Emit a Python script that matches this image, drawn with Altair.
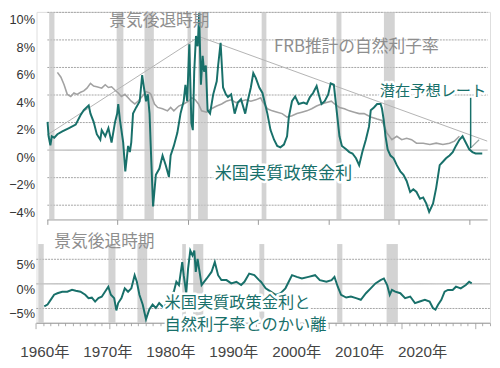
import altair as alt
import pandas as pd

# ---------------- data ----------------
REC_START = [1960.33, 1969.92, 1973.88, 1980.0, 1981.5, 1990.54, 2001.17, 2007.92]
REC_END = [1961.08, 1970.88, 1975.21, 1980.5, 1982.88, 1991.21, 2001.88, 2009.46]

RATE_YEAR = [1960.1, 1960.25, 1960.5, 1960.7, 1961.05, 1961.5, 1962.2, 1963.15, 1964.1, 1964.8,
             1965.25, 1965.95, 1966.2, 1966.65, 1967.1, 1967.6, 1967.8, 1968.3, 1968.75, 1969.2,
             1969.7, 1970.0, 1970.15, 1970.4, 1970.85, 1971.15, 1971.55, 1971.8, 1972.0, 1972.25,
             1972.7, 1973.2, 1973.55, 1973.8, 1974.1, 1974.35, 1974.6, 1974.8, 1975.1, 1975.5,
             1976.0, 1976.45, 1976.9, 1977.35, 1977.6, 1978.05, 1978.55, 1979.0, 1979.45, 1979.7,
             1979.95, 1980.25, 1980.55, 1980.75, 1980.95, 1981.2, 1981.45, 1981.65, 1981.9, 1982.15,
             1982.35, 1982.6, 1982.85, 1983.2, 1983.65, 1984.15, 1984.35, 1984.7, 1985.05, 1985.45,
             1985.75, 1986.2, 1986.7, 1987.15, 1987.6, 1988.2, 1988.55, 1989.0, 1989.35, 1989.7,
             1990.2, 1990.65, 1991.35, 1991.8, 1992.3, 1992.75, 1993.2, 1993.7, 1994.15, 1994.4,
             1994.85, 1995.3, 1995.8, 1996.5, 1996.95, 1997.4, 1997.85, 1998.35, 1998.65, 1999.05,
             1999.5, 2000.0, 2000.35, 2000.8, 2001.3, 2001.6, 2001.95, 2002.55, 2003.0, 2003.45,
             2003.95, 2004.4, 2004.85, 2005.35, 2005.8, 2006.05, 2006.5, 2006.95, 2007.45, 2007.65,
             2007.9, 2008.15, 2008.45, 2008.85, 2009.3, 2009.75, 2010.25, 2010.7, 2011.15, 2011.65,
             2012.1, 2012.55, 2013.05, 2013.5, 2013.95, 2014.35, 2014.9, 2015.35, 2015.85, 2016.3,
             2016.75, 2017.25, 2017.7, 2018.15, 2018.65, 2019.1, 2019.55, 2020.05, 2020.5, 2020.95,
             2021.9]
RATE_VALUE = [2.0, 0.95, 0.3, 0.95, 0.85, 1.1, 1.3, 1.55, 1.8, 2.5,
              2.85, 3.2, 2.6, 2.0, 1.1, 0.7, 1.4, 0.95, 1.55, 0.5,
              2.0, 2.6, 3.3, 2.1, 0.5, -1.6, 0.25, -0.2, 0.5, 2.6,
              3.05, 3.5, 5.4, 4.5, 3.5, 4.0, 2.6, -0.2, -4.15, -1.85,
              -1.4, -0.45, -1.15, -2.0, -0.45, 0.25, 1.2, 2.6, 3.5, 4.7,
              3.5, 7.65, 1.9, 1.4, 5.65, 8.25, 7.5, 9.9, 4.7, 6.8,
              5.65, 6.1, 2.85, 2.6, 4.0, 4.95, 6.1, 7.75, 4.5, 4.0,
              3.8, 4.0, 2.6, 3.4, 3.65, 2.6, 3.5, 4.5, 5.55, 5.2,
              4.5, 4.1, 2.6, 1.4, 0.7, 0.25, 0.15, 0.35, 0.95, 2.35,
              3.5, 3.85, 3.3, 3.4, 3.3, 3.8, 4.1, 4.6, 4.0, 3.3,
              3.5, 4.0, 4.8, 4.7, 2.35, 0.95, 0.25, 0.0, -0.2, -0.3,
              -0.65, -1.15, -0.2, 0.7, 1.65, 2.85, 3.05, 3.3, 3.3, 2.95,
              2.1, 0.95, 0.0, -0.45, -0.65, -1.15, -1.6, -1.85, -2.3, -3.1,
              -2.9, -3.1, -3.6, -3.5, -3.95, -4.55, -3.95, -2.8, -1.15, -0.9,
              -0.65, -0.45, -0.2, 0.25, 0.7, 0.95, 0.5, 0.0, -0.2, -0.3,
              -0.3]

RSTAR_YEAR = [1961.5, 1962.0, 1962.45, 1962.9, 1963.4, 1963.85, 1964.3, 1964.8, 1965.25, 1965.7,
              1966.2, 1966.65, 1967.1, 1967.8, 1968.3, 1968.75, 1969.2, 1969.7, 1970.15, 1970.6,
              1971.1, 1971.55, 1972.0, 1972.5, 1972.95, 1973.4, 1973.8, 1974.1, 1974.6, 1974.8,
              1975.3, 1975.75, 1976.45, 1977.15, 1977.6, 1978.05, 1978.75, 1979.45, 1980.15, 1980.6,
              1981.1, 1981.55, 1982.0, 1982.7, 1983.4, 1984.15, 1984.85, 1985.5, 1986.2, 1986.9,
              1987.6, 1988.3, 1989.0, 1989.7, 1990.4, 1990.65, 1991.35, 1992.05, 1992.75, 1993.45,
              1994.15, 1994.85, 1995.55, 1996.25, 1996.95, 1997.65, 1998.35, 1999.05, 1999.75, 2000.45,
              2000.9, 2001.6, 2002.3, 2003.0, 2003.7, 2004.4, 2005.1, 2006.05, 2006.95, 2007.65,
              2008.35, 2009.05, 2009.75, 2010.45, 2011.15, 2011.85, 2012.55, 2013.5, 2014.45, 2015.35,
              2016.3, 2017.25, 2017.95, 2018.65]
RSTAR_VALUE = [5.6, 5.25, 4.7, 4.0, 3.85, 4.1, 4.0, 4.15, 4.25, 4.45,
               4.8, 4.6, 4.55, 4.45, 4.7, 4.5, 4.55, 4.3, 4.1, 3.85,
               4.0, 3.75, 3.5, 3.3, 3.5, 3.75, 4.0, 4.2, 4.1, 4.0,
               3.3, 3.05, 2.95, 2.8, 3.05, 2.8, 3.15, 3.3, 3.5, 3.75,
               3.6, 3.3, 2.8, 2.7, 2.95, 3.15, 3.3, 3.5, 3.6, 3.4,
               3.5, 3.6, 3.5, 3.6, 3.75, 3.5, 2.95, 2.8, 2.7, 2.6,
               2.35, 2.45, 2.6, 2.7, 2.8, 2.95, 3.15, 3.3, 3.4, 3.5,
               3.3, 3.05, 2.95, 2.8, 2.7, 2.6, 2.6, 2.35, 2.2, 2.1,
               1.2, 0.7, 0.95, 0.7, 0.8, 0.7, 0.45, 0.45, 0.35, 0.45,
               0.35, 0.45, 0.6, 0.95]

GAP_YEAR = [1961.15, 1961.6, 1962.05, 1962.5, 1962.95, 1963.6, 1964.3, 1964.95, 1965.45, 1966.1,
            1966.75, 1967.2, 1967.65, 1968.1, 1968.55, 1969.0, 1969.45, 1969.9, 1970.25, 1970.7,
            1971.0, 1971.25, 1971.7, 1972.15, 1972.6, 1973.05, 1973.5, 1973.8, 1974.15, 1974.6,
            1975.05, 1975.5, 1975.95, 1976.4, 1976.85, 1977.5, 1977.95, 1978.4, 1978.85, 1979.2,
            1979.55, 1980.0, 1980.2, 1980.55, 1980.8, 1981.1, 1981.4, 1981.65, 1981.85, 1982.1,
            1982.3, 1982.65, 1983.35, 1984.0, 1984.45, 1984.9, 1985.35, 1986.05, 1986.7, 1987.4,
            1988.05, 1988.5, 1989.15, 1989.85, 1990.5, 1990.75, 1991.4, 1992.1, 1992.75, 1993.45,
            1994.1, 1994.55, 1995.0, 1995.65, 1996.35, 1997.25, 1998.15, 1998.8, 1999.7, 2000.4,
            2000.8, 2001.25, 2001.7, 2002.4, 2003.05, 2003.75, 2004.4, 2005.1, 2005.75, 2006.4,
            2007.1, 2007.55, 2008.0, 2008.35, 2008.65, 2009.1, 2009.8, 2010.45, 2011.15, 2011.8,
            2012.45, 2013.15, 2013.8, 2014.25, 2014.6, 2014.95, 2015.4, 2015.85, 2016.3, 2016.95,
            2017.4, 2018.05, 2018.75, 2019.2, 2019.55]
GAP_VALUE = [-4.67, -4.3, -3.3, -2.3, -2.0, -1.7, -1.7, -1.3, -1.5, -1.7,
             -2.3, -3.0, -2.9, -3.7, -3.0, -2.7, -1.7, -0.67, -2.3, -3.0,
             -5.5, -4.0, -3.0, -1.0, -1.7, -1.0, 1.67, 0.33, -2.3, -4.3,
             -7.3, -5.3, -4.3, -5.0, -4.0, -5.0, -3.7, -2.3, -1.7, 0.33,
             -0.33, 4.33, 1.67, -2.0, 3.0, 6.67, 5.67, 6.67, 2.33, 5.0,
             3.0, -0.33, 1.0, 2.33, 4.33, 1.67, 0.67, 0.67, 0.0, 0.33,
             -0.33, 0.33, 2.0, 1.67, 0.67, 0.33, -1.0, -1.67, -2.33, -2.0,
             -1.0, 0.33, 1.67, 1.33, 1.0, 1.33, 1.67, 0.67, 0.33, 0.67,
             1.33, -0.67, -2.33, -2.87, -2.67, -3.0, -3.33, -2.0, -1.0, 0.0,
             0.67, 1.0, -0.33, -2.33, -1.33, -1.67, -2.0, -3.0, -2.67, -4.0,
             -3.67, -3.33, -3.67, -5.0, -5.33, -4.33, -3.33, -1.67, -1.33, -1.33,
             -0.67, -1.0, -0.33, 0.33, 0.0]

TREND_YEAR = [1960.05, 1981.65, 2022.6]
TREND_VALUE = [1.05, 8.2, 0.6]
TREND2_YEAR = [2020.05, 2021.45]
TREND2_VALUE = [0.0, 0.7]
ARROW_YEAR = [2020.25]
ARROW_FROM = [3.75]
ARROW_TO = [0.1]

TOP_TICKS = [-4, -2, 0, 2, 4, 6, 8, 10]
BOT_TICKS = [-5, 0, 5]
DECADES = [1960, 1970, 1980, 1990, 2000, 2010, 2020]
YEARS = list(range(1960, 2023))

TOP_DOMAIN = [-5.1, 10]
BOT_DOMAIN = [-8, 8]

# ---------------- styling ----------------
TEAL = "#18706a"
GRAY_TXT = "#8e8e8e"
CJK = "Noto Sans CJK JP"
LAT = "Liberation Sans, Arial, Noto Sans CJK JP"
W, H = 461, 316

xt = alt.Scale(domain=[1960, 2022.6], range=[10.5, 458.1], nice=False, zero=False)
yt = alt.Scale(domain=TOP_DOMAIN, range=[211, 0], nice=False, zero=False)
xb = alt.Scale(domain=[1960, 2022], range=[-0.7, 460.6], nice=False, zero=False)
yb = alt.Scale(domain=BOT_DOMAIN, range=[316, 236], nice=False, zero=False)
xl = alt.Scale(domain=[1960, 2020], range=[8, 392], nice=False, zero=False)

grid_dash = {"condition": {"test": "datum.value === 0", "value": [1, 0]}, "value": [2, 1]}

ax_yt = alt.Axis(orient="left", values=TOP_TICKS, title=None, domain=False, ticks=False,
                 labelExpr="replace(datum.value + '%', '-', '−')", labelFont=LAT,
                 labelFontSize=13, labelColor="#333", labelPadding=2, labelOffset=8,
                 grid=True, gridColor="#a3a3a3", gridDash=grid_dash, gridWidth=1)
ax_xt = alt.Axis(orient="bottom", values=DECADES, title=None, labels=False, offset=-105,
                 tickSize=5, tickColor="#999", domainColor="#999", grid=False)
ax_yb = alt.Axis(orient="left", values=BOT_TICKS, title=None, domain=False, ticks=False,
                 labelExpr="replace(datum.value + '%', '-', '−')", labelFont=LAT,
                 labelFontSize=13, labelColor="#333", labelPadding=2, labelOffset=6,
                 grid=True, gridColor="#a3a3a3", gridDash=grid_dash, gridWidth=1)
ax_xb = alt.Axis(orient="bottom", values=YEARS, title=None, labels=False,
                 tickSize={"condition": {"test": "datum.value % 10 === 0", "value": 6}, "value": 3},
                 tickColor="#aaa", domainColor="#999", grid=False)
ax_lab = alt.Axis(orient="bottom", values=DECADES, title=None, ticks=False, domain=False,
                  grid=False, labelExpr="datum.value + '年'", labelFont=LAT, labelFontSize=15.5,
                  labelColor="#444", labelPadding=22, labelOverlap=False, labelFlush=False,
                  labelAlign="center")


def X(field, sc, ax):
    return alt.X(f"{field}:Q", scale=sc, axis=ax)


def Y(field, sc, ax):
    return alt.Y(f"{field}:Q", scale=sc, axis=ax)


def text_layer(txt, year, value, color, size, xs, xa, ys, ya, align="center", halo=False):
    df = pd.DataFrame({"year": [year], "value": [value], "t": [txt]})
    layers = []
    if halo:
        layers.append(alt.Chart(df).mark_text(font=CJK, fontSize=size, align=align, baseline="middle",
                                              color="white", stroke="white", strokeWidth=5,
                                              strokeJoin="round").encode(
            x=X("year", xs, xa), y=Y("value", ys, ya), text="t:N"))
    layers.append(alt.Chart(df).mark_text(font=CJK, fontSize=size, align=align, baseline="middle",
                                          color=color).encode(
        x=X("year", xs, xa), y=Y("value", ys, ya), text="t:N"))
    return layers


# ---------------- top panel ----------------
bands_top = pd.DataFrame({"start": REC_START, "end": REC_END,
                          "top": [TOP_DOMAIN[1]] * len(REC_START),
                          "bottom": [TOP_DOMAIN[0]] * len(REC_START)})
bands_bot = pd.DataFrame({"start": REC_START, "end": REC_END,
                          "top": [BOT_DOMAIN[1]] * len(REC_START),
                          "bottom": [BOT_DOMAIN[0]] * len(REC_START)})

top_layers = [
    alt.Chart(bands_top).mark_rect(color="#c4c4c4", opacity=0.75).encode(
        x=X("start", xt, ax_xt), x2="end", y=Y("top", yt, ax_yt), y2="bottom"),
    alt.Chart(pd.DataFrame({"year": TREND_YEAR, "value": TREND_VALUE})).mark_line(
        color="#b3b3b3", strokeWidth=1).encode(x=X("year", xt, ax_xt), y=Y("value", yt, ax_yt)),
    alt.Chart(pd.DataFrame({"year": TREND2_YEAR, "value": TREND2_VALUE})).mark_line(
        color="#9aa9a7", strokeWidth=1.2).encode(x=X("year", xt, ax_xt), y=Y("value", yt, ax_yt)),
    alt.Chart(pd.DataFrame({"year": RSTAR_YEAR, "value": RSTAR_VALUE})).mark_line(
        color="#a2a2a2", strokeWidth=1.6).encode(x=X("year", xt, ax_xt), y=Y("value", yt, ax_yt)),
    alt.Chart(pd.DataFrame({"year": RATE_YEAR, "value": RATE_VALUE})).mark_line(
        color=TEAL, strokeWidth=2).encode(x=X("year", xt, ax_xt), y=Y("value", yt, ax_yt)),
]
top_layers += text_layer("景気後退時期", 1976.0, 9.3, GRAY_TXT, 17, xt, ax_xt, yt, ax_yt)
top_layers += text_layer("FRB推計の自然利子率", 2004.0, 7.42, GRAY_TXT, 17, xt, ax_xt, yt, ax_yt)
top_layers += text_layer("潜在予想レート", 2014.9, 4.26, TEAL, 15.5, xt, ax_xt, yt, ax_yt, halo=True)
top_layers += text_layer("米国実質政策金利", 1993.64, -1.78, TEAL, 17.5, xt, ax_xt, yt, ax_yt, halo=True)
top_layers.append(
    alt.Chart(pd.DataFrame({"year": ARROW_YEAR, "a": ARROW_FROM, "b": ARROW_TO})).mark_rule(
        color=TEAL, strokeWidth=1.5).encode(x=X("year", xt, ax_xt), y=Y("a", yt, ax_yt), y2="b"))
top = alt.layer(*top_layers)

# ---------------- bottom panel ----------------
bot_layers = [
    alt.Chart(bands_bot).mark_rect(color="#c4c4c4", opacity=0.75).encode(
        x=X("start", xb, ax_xb), x2="end", y=Y("top", yb, ax_yb), y2="bottom"),
    alt.Chart(pd.DataFrame({"year": GAP_YEAR, "value": GAP_VALUE})).mark_line(
        color=TEAL, strokeWidth=2).encode(x=X("year", xb, ax_xb), y=Y("value", yb, ax_yb)),
]
bot_layers += text_layer("景気後退時期", 1969.37, 8.4, GRAY_TXT, 17, xb, ax_xb, yb, ax_yb)
bot_layers += text_layer("米国実質政策金利と", 1977.57, -4.0, TEAL, 16.5, xb, ax_xb, yb, ax_yb,
                         align="left", halo=True)
bot_layers += text_layer("自然利子率とのかい離", 1977.57, -8.4, TEAL, 16.5, xb, ax_xb, yb, ax_yb,
                         align="left", halo=True)
bot = alt.layer(*bot_layers)

# ---------------- year labels ----------------
lab = alt.Chart(pd.DataFrame({"year": DECADES})).mark_point(opacity=0).encode(
    x=X("year", xl, ax_lab), y=alt.value(0))

chart = alt.layer(top, bot, lab).resolve_scale(x="independent", y="independent").properties(
    width=W, height=H,
    autosize=alt.AutoSizeParams(type="none"),
    padding={"left": 29, "top": 1, "right": 2, "bottom": 40},
).configure_view(stroke=None).configure(background="white")

chart.save("out.html", embed_options={"renderer": "svg", "actions": False})
